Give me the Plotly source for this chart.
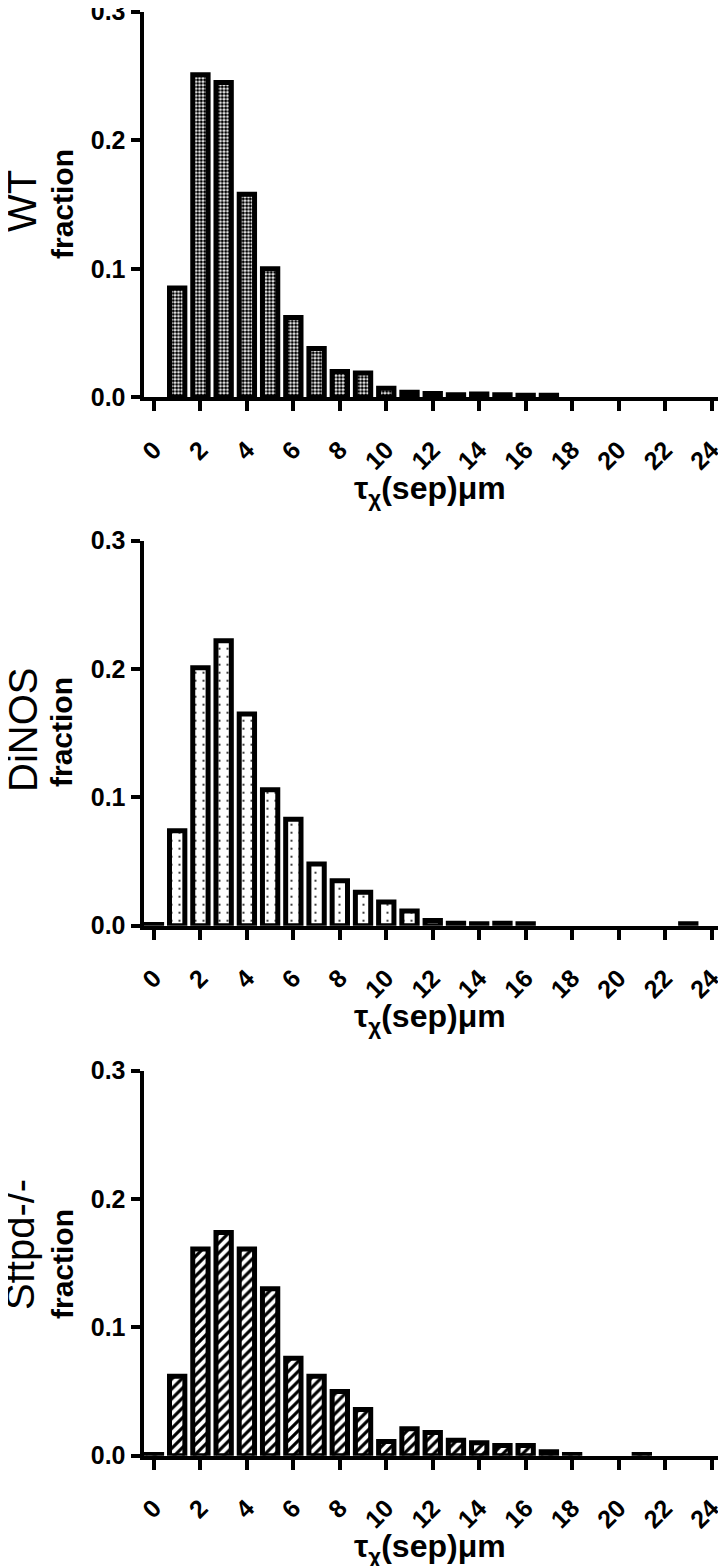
import plotly.graph_objects as go

# the page body keeps its default 8px margin; the figure fills the rest
PAGE_W, PAGE_H, BODY = 726, 1566, 8
W, H = PAGE_W - BODY, PAGE_H - BODY
FONT = "Liberation Sans, Arial, sans-serif"

# histogram bins (tau_x separation, um) and fractions
bins = list(range(25))
x_ticks = list(range(0, 25, 2))
y_ticks = [0.0, 0.1, 0.2, 0.3]

groups = ["WT", "DiNOS", "Sftpd-/-"]

wt = [0.0, 0.085, 0.251, 0.245, 0.158, 0.100, 0.062, 0.038, 0.020, 0.019,
      0.007, 0.004, 0.003, 0.002, 0.0025, 0.002, 0.0015, 0.0015, 0.0, 0.0,
      0.0, 0.0, 0.0, 0.0, 0.0]
dinos = [0.001, 0.074, 0.201, 0.222, 0.165, 0.106, 0.083, 0.048, 0.035, 0.026,
         0.0185, 0.0115, 0.004, 0.002, 0.0015, 0.002, 0.0015, 0.0, 0.0, 0.0,
         0.0, 0.0, 0.0, 0.0015, 0.0]
sftpd = [0.001, 0.062, 0.161, 0.174, 0.161, 0.130, 0.076, 0.062, 0.050, 0.036,
         0.011, 0.021, 0.018, 0.012, 0.010, 0.008, 0.008, 0.003, 0.001, 0.0,
         0.0, 0.001, 0.0, 0.0, 0.0]

series = [wt, dinos, sftpd]

# fill patterns: checker-ish, sparse dots, diagonal hatch
patterns = [
    dict(shape=".", size=3.5, solidity=0.62),
    dict(shape=".", size=8, solidity=0.05),
    dict(shape="/", size=7, solidity=0.45),
]

# panel placement in page pixels: y=0.3 line and y=0.0 line
top_px = [11.7, 540.7, 1070.7]
zero_px = [397.3, 925.7, 1455.7]
label_y_px = [201, 730, 1245]
frac_y_px = [204, 732, 1264]
label_x_px = [22, 23, 20]


def px(p):
    return (p - BODY) / W


def py(p):
    return 1 - (p - BODY) / H


x_dom = [px(143.5), px(725)]
x_range = [-0.45, 24.58]

fig = go.Figure()
annotations = []

for i, (name, vals, pat) in enumerate(zip(groups, series, patterns)):
    n = "" if i == 0 else str(i + 1)
    fig.add_trace(go.Bar(
        x=bins, y=vals, xaxis="x" + n, yaxis="y" + n, width=0.66,
        marker=dict(color="white",
                    line=dict(color="black",
                              width=[5 if v > 0 else 0 for v in vals]),
                    pattern=dict(fgcolor="black", bgcolor="white",
                                 fillmode="replace", **pat)),
        showlegend=False,
    ))
    fig.layout["xaxis" + n] = dict(
        domain=x_dom, anchor="y" + n, range=x_range, automargin=False,
        tickvals=x_ticks, tickangle=-45, ticks="outside", ticklen=10,
        tickwidth=3.5, tickcolor="black", showline=True, linewidth=4,
        linecolor="black", showgrid=False, zeroline=False,
        ticklabelstandoff=14, ticklabeloverflow="allow",
        tickfont=dict(family=FONT, size=25, color="black", weight="bold"),
    )
    fig.layout["yaxis" + n] = dict(
        domain=[py(zero_px[i]), py(top_px[i])], anchor="x" + n,
        range=[0, 0.3], tickvals=y_ticks, tickformat=".1f", automargin=False,
        ticks="outside", ticklen=9, tickwidth=3.5, tickcolor="black",
        showline=True, linewidth=4, linecolor="black", showgrid=False,
        zeroline=False, ticklabeloverflow="allow",
        tickfont=dict(family=FONT, size=25, color="black", weight="bold"),
    )
    annotations.append(dict(
        text=name, x=px(label_x_px[i]), y=py(label_y_px[i]), xref="paper",
        yref="paper", textangle=-90, showarrow=False, xanchor="center",
        yanchor="middle", font=dict(family=FONT, size=40, color="black"),
    ))
    annotations.append(dict(
        text="fraction", x=px(62), y=py(frac_y_px[i]), xref="paper",
        yref="paper", textangle=-90, showarrow=False, xanchor="center",
        yanchor="middle",
        font=dict(family=FONT, size=30, color="black", weight="bold"),
    ))
    annotations.append(dict(
        text="τ<sub>χ</sub>(sep)μm", x=px(430), y=py(zero_px[i] + 93),
        xref="paper", yref="paper", showarrow=False, xanchor="center",
        yanchor="middle",
        font=dict(family=FONT, size=32, color="black", weight="bold"),
    ))

fig.update_layout(
    width=W, height=H, margin=dict(l=0, r=0, t=0, b=0, autoexpand=False),
    paper_bgcolor="white", plot_bgcolor="white",
    annotations=annotations, showlegend=False,
)

fig.write_html("out.html", config={"displayModeBar": False})
